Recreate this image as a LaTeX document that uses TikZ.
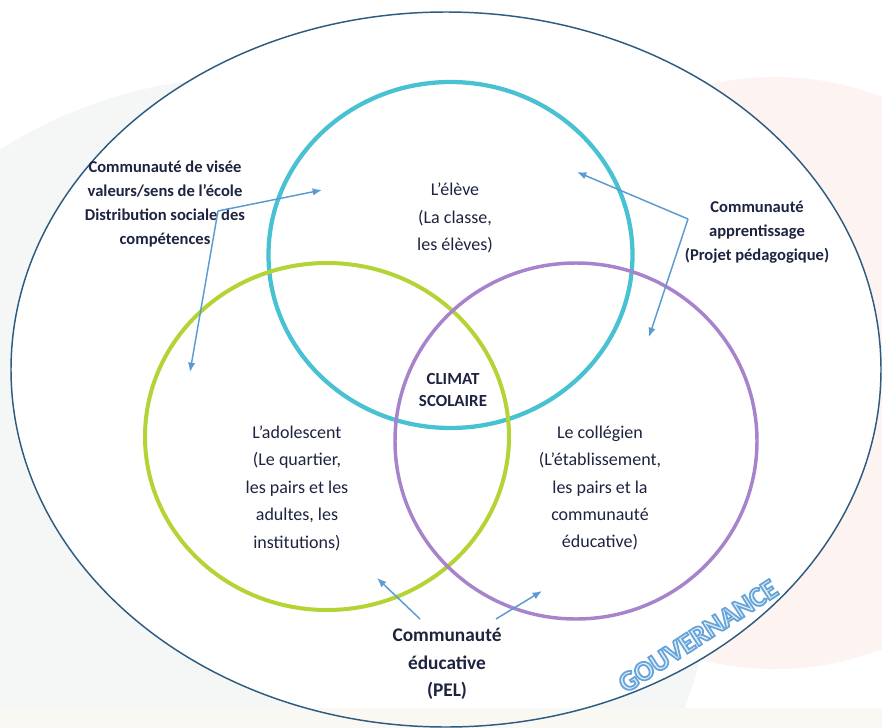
\documentclass[tikz,border=0pt]{standalone}
\usepackage{fontspec}
\setmainfont{Carlito}
\usetikzlibrary{arrows.meta}
\definecolor{outerc}{HTML}{2E5C80}
\definecolor{cyanc}{HTML}{48C2D2}
\definecolor{greenc}{HTML}{B4D335}
\definecolor{purplec}{HTML}{A683CB}
\definecolor{arrowc}{HTML}{5A9BD3}
\definecolor{textc}{HTML}{1E2340}
\definecolor{leftbg}{HTML}{F4F7F6}
\definecolor{rightbg}{HTML}{FDF3F1}
\definecolor{creambg}{HTML}{FAF8F3}
\definecolor{govlight}{HTML}{DCEEF9}
\newcommand{\govoutline}[1]{\textcolor{govlight}{\special{pdf:literal direct 0.40 0.64 0.85 RG 1.3 w 2 Tr}#1\special{pdf:literal direct 0 Tr}}}
\tikzset{
  circtext/.style={text=textc, align=center, font=\fontsize{13.5pt}{20.6pt}\selectfont, inner sep=0pt},
  boldlbl/.style={text=textc, align=center, font=\fontsize{12.4pt}{17.8pt}\selectfont\bfseries, inner sep=0pt},
  biglbl/.style={text=textc, align=center, font=\fontsize{14.5pt}{20.6pt}\selectfont\bfseries, inner sep=0pt},
  climat/.style={text=textc, align=center, font=\fontsize{12.7pt}{16.8pt}\selectfont\bfseries, inner sep=0pt},
  conn/.style={draw=arrowc, line width=1.1pt, -{Latex[length=7pt,width=5.5pt]}},
}
\begin{document}
\begin{tikzpicture}[x=0.75pt,y=-0.75pt]
\useasboundingbox (0,0) rectangle (882,728);
\fill[white] (0,0) rectangle (882,728);
\begin{scope}
\clip (0,0) rectangle (882,728);
\fill[leftbg] (250,542) ellipse [x radius=465, y radius=465];
\fill[rightbg] (775,373) ellipse [x radius=296, y radius=296];
\fill[white] (446,369.5) ellipse [x radius=435, y radius=357.5];
\fill[creambg] (0,708) rectangle (882,728);
\end{scope}
% outer ellipse
\draw[outerc, line width=1.1pt] (446,369.5) ellipse [x radius=435, y radius=357.5];
% three circles
\draw[cyanc, line width=3.2pt] (450.5,255) ellipse [x radius=182, y radius=173];
\draw[greenc, line width=3pt] (327,436.5) ellipse [x radius=182, y radius=173.5];
\draw[purplec, line width=2.6pt] (576,441) ellipse [x radius=181, y radius=178];
% circle texts
\node[circtext] (eleve) at (455,218) {L’élève\\(La classe,\\les élèves)};
\node[circtext] (ado) at (297,488) {L’adolescent\\(Le quartier,\\les pairs et les\\adultes, les\\institutions)};
\node[circtext] (coll) at (600,488) {Le collégien\\(L’établissement,\\les pairs et la\\communauté\\éducative)};
\node[climat] (clim) at (453,390) {CLIMAT\\SCOLAIRE};
% labels
\node[boldlbl] (visee) at (165,204) {Communauté de visée\\valeurs/sens de l’école\\Distribution sociale des\\compétences};
\node[boldlbl] (appr) at (757,232) {Communauté\\apprentissage\\(Projet pédagogique)};
\node[biglbl] (educ) at (447,664) {Communauté\\éducative\\(PEL)};
% connectors
\coordinate (vs) at (218,211);
\coordinate (ve1) at (322,190);
\coordinate (ve2) at (190,372);
\draw[conn] (vs) -- (ve1);
\draw[conn] (vs) -- (ve2);
\coordinate (as) at (688,219);
\coordinate (ae1) at (577,172);
\coordinate (ae2) at (649,337);
\draw[conn] (as) -- (ae1);
\draw[conn] (as) -- (ae2);
\coordinate (es1) at (420,619);
\coordinate (ee1) at (377,578);
\coordinate (es2) at (496,619);
\coordinate (ee2) at (542,591);
\draw[conn] (es1) -- (ee1);
\draw[conn] (es2) -- (ee2);
% governance
\node[rotate=33, inner sep=0pt, font=\fontsize{21pt}{21pt}\selectfont\bfseries] (gov) at (698,636) {\govoutline{GOUVERNANCE}};
\end{tikzpicture}
\end{document}
